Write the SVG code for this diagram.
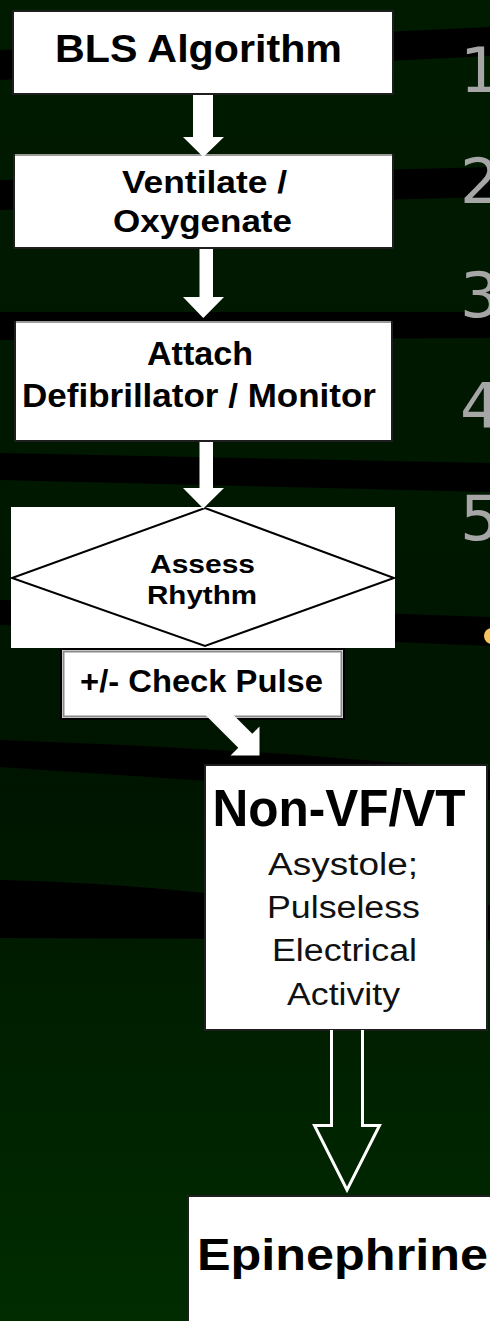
<svg xmlns="http://www.w3.org/2000/svg" width="490" height="1321" viewBox="0 0 490 1321">
<defs>
<linearGradient id="bg" x1="0" y1="0" x2="0" y2="1">
<stop offset="0" stop-color="#001b00"/>
<stop offset="0.6" stop-color="#001500"/>
<stop offset="1" stop-color="#002c00"/>
</linearGradient>
<style>
.band{fill:#000}
.box{fill:#fff;stroke:#1e1e1e;stroke-width:2}
.b{font-family:"Liberation Sans",Arial,sans-serif;font-weight:bold;fill:#000;text-anchor:middle}
.r{font-family:"Liberation Sans",Arial,sans-serif;fill:#111;text-anchor:middle}
.num{font-family:"DejaVu Sans",sans-serif;font-size:63px;fill:#a6a6a6}
.arrow{fill:#fff}
</style>
</defs>
<rect width="490" height="1321" fill="url(#bg)"/>
<g id="background-bands">
<polygon class="band" points="0,50 490,27 490,56 0,80"/>
<polygon class="band" points="0,180 490,167 490,197 0,210"/>
<polygon class="band" points="0,312 490,312 490,338 0,340"/>
<polygon class="band" points="0,453 490,463 490,492 0,480"/>
<polygon class="band" points="0,600 490,617 490,646 0,625"/>
<path class="band" d="M0,740 Q150,745 300,755 L490,770 L490,800 L0,767 Z"/>
<path class="band" d="M0,880 Q100,882 205,893 L490,905 L490,940 L0,938 Z"/>
</g>
<g id="side-numbers">
<text class="num" x="460" y="92">1</text>
<text class="num" x="460" y="203">2</text>
<text class="num" x="460" y="317">3</text>
<text class="num" x="460" y="428">4</text>
<text class="num" x="460" y="540">5</text>
<circle cx="492" cy="636" r="8" fill="#f6c35e"/>
</g>
<g id="node-bls">
<rect class="box" x="13" y="11" width="380" height="83"/>
<text class="b" x="198.5" y="62" font-size="39" textLength="287" lengthAdjust="spacingAndGlyphs">BLS Algorithm</text>
</g>
<g id="node-ventilate">
<rect class="box" x="14" y="155" width="379" height="93"/>
<line x1="15" y1="155" x2="392" y2="155" stroke="#9a9a9a" stroke-width="2"/>
<text class="b" x="204.5" y="193" font-size="31" textLength="165" lengthAdjust="spacingAndGlyphs">Ventilate /</text>
<text class="b" x="202.5" y="232" font-size="31" textLength="179" lengthAdjust="spacingAndGlyphs">Oxygenate</text>
</g>
<g id="node-attach">
<rect class="box" x="15" y="322" width="377" height="119"/>
<line x1="16" y1="322" x2="391" y2="322" stroke="#9a9a9a" stroke-width="2"/>
<text class="b" x="200" y="365" font-size="33" textLength="106" lengthAdjust="spacingAndGlyphs">Attach</text>
<text class="b" x="199" y="407" font-size="33" textLength="354" lengthAdjust="spacingAndGlyphs">Defibrillator / Monitor</text>
</g>
<g id="node-assess">
<rect x="11" y="507" width="384" height="141" fill="#fff"/>
<polygon points="205,508 394,578 205,646 12,578" fill="#fff" stroke="#000" stroke-width="2"/>
<text class="b" x="202.5" y="573" font-size="26" textLength="105" lengthAdjust="spacingAndGlyphs">Assess</text>
<text class="b" x="202" y="604" font-size="26" textLength="110" lengthAdjust="spacingAndGlyphs">Rhythm</text>
</g>
<g id="node-check-pulse">
<rect x="61" y="649" width="283" height="70" fill="#fff" stroke="#000" stroke-width="2"/>
<rect x="63.5" y="651.5" width="278" height="65" fill="none" stroke="#8a8a8a" stroke-width="2"/>
<text class="b" x="201.5" y="692" font-size="32" textLength="243" lengthAdjust="spacingAndGlyphs">+/- Check Pulse</text>
</g>
<g id="node-non-vf">
<rect class="box" x="205" y="765" width="282" height="265" stroke-width="1.5"/>
<text class="b" x="339" y="826" font-size="52" textLength="253" lengthAdjust="spacingAndGlyphs">Non-VF/VT</text>
<text class="r" x="343" y="875" font-size="31" textLength="150" lengthAdjust="spacingAndGlyphs">Asystole;</text>
<text class="r" x="343.5" y="918" font-size="31" textLength="153" lengthAdjust="spacingAndGlyphs">Pulseless</text>
<text class="r" x="344.5" y="961" font-size="31" textLength="145" lengthAdjust="spacingAndGlyphs">Electrical</text>
<text class="r" x="343.5" y="1005" font-size="31" textLength="113" lengthAdjust="spacingAndGlyphs">Activity</text>
</g>
<g id="node-epinephrine">
<rect class="box" x="188" y="1196" width="320" height="140" stroke-width="1.5"/>
<text class="b" x="342.5" y="1270" font-size="45" textLength="291" lengthAdjust="spacingAndGlyphs">Epinephrine</text>
</g>
<g id="connectors">
<polygon class="arrow" points="193,95 213,95 213,137 224,137 203.3,157 183,137 193,137"/>
<polygon class="arrow" points="199.5,249 213,249 213,297 224,297 203.3,318 183,297 199.5,297"/>
<polygon class="arrow" points="199.5,442 213,442 213,488 224,488 203.3,508.5 183,488 199.5,488"/>
<polygon class="arrow" points="223.5,705 252.25,733.75 259.5,726.5 259.5,755.5 230.5,755.5 238.25,747.75 195.5,705"/>
<path d="M331.5,1030 V1125.5 H314.5 L347,1190 L379.5,1125.5 H362.5 V1030" fill="none" stroke="#fff" stroke-width="3"/>
</g>
</svg>
